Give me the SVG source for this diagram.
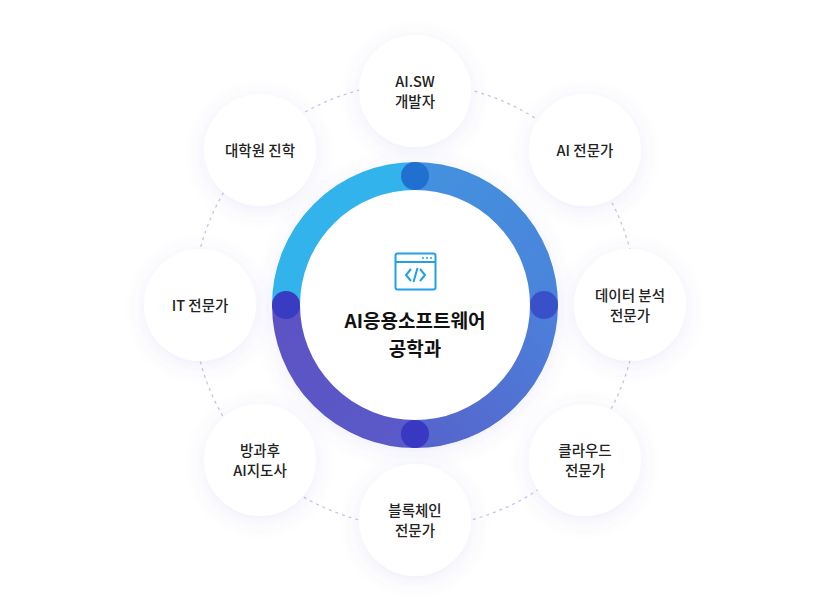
<svg xmlns="http://www.w3.org/2000/svg" width="830" height="611" viewBox="0 0 830 611">
<defs>
<filter id="sh" x="-50%" y="-50%" width="200%" height="200%"><feDropShadow dx="0" dy="4" stdDeviation="10" flood-color="#6a6ad0" flood-opacity="0.12"/></filter>
<linearGradient id="g1" gradientUnits="userSpaceOnUse" x1="415" y1="176" x2="544" y2="305"><stop offset="0" stop-color="#4391de"/><stop offset="1" stop-color="#4a84db"/></linearGradient>
<linearGradient id="g2" gradientUnits="userSpaceOnUse" x1="544" y1="305" x2="415" y2="434"><stop offset="0" stop-color="#4c80da"/><stop offset="1" stop-color="#5664cc"/></linearGradient>
<linearGradient id="g3" gradientUnits="userSpaceOnUse" x1="415" y1="434" x2="286" y2="305"><stop offset="0" stop-color="#5a5ac8"/><stop offset="1" stop-color="#5d52c4"/></linearGradient>
</defs>
<style>
.n{fill:#fff;filter:url(#sh)}
.t{font-family:"Noto Sans CJK KR","Noto Sans",sans-serif;font-size:14.5px;font-weight:500;fill:#222;text-anchor:middle}
.ring{fill:none;stroke-width:28}
</style>
<rect width="830" height="611" fill="#fff"/>
<g id="connectors"><circle cx="415" cy="305" r="222" fill="none" stroke="#c4c4f0" stroke-width="1.3" stroke-dasharray="3 4"/></g>
<g id="core">
<circle cx="415" cy="305" r="143" fill="#fff" filter="url(#sh)"/>
<path class="ring" stroke="#33b3ec" d="M286 305 A129 129 0 0 1 415 176"/>
<path class="ring" stroke="url(#g1)" d="M415 176 A129 129 0 0 1 544 305"/>
<path class="ring" stroke="url(#g2)" d="M544 305 A129 129 0 0 1 415 434"/>
<path class="ring" stroke="url(#g3)" d="M415 434 A129 129 0 0 1 286 305"/>
<circle cx="415" cy="176" r="14" fill="#1f70cf"/>
<circle cx="286" cy="305" r="14" fill="#383cc2"/>
<circle cx="544" cy="305" r="14" fill="#3a50c8"/>
<circle cx="415" cy="434" r="14" fill="#3838c2"/>
<g fill="none" stroke="#22a0e6" stroke-width="2">
<rect x="395.5" y="253.5" width="40" height="36" rx="2"/>
<line x1="395.5" y1="262" x2="435.5" y2="262"/>
<polyline points="411,269 406,275 411,281"/><polyline points="420,269 425,275 420,281"/><line x1="417.5" y1="268" x2="413.5" y2="282"/>
</g>
<g fill="#22a0e6"><circle cx="423" cy="258" r="1"/><circle cx="427" cy="258" r="1"/><circle cx="431" cy="258" r="1"/></g>
<text class="t" x="415" y="328" style="font-size:19px;font-weight:700;fill:#111">AI응용소프트웨어</text>
<text class="t" x="415" y="356" style="font-size:19px;font-weight:700;fill:#111">공학과</text>
</g>
<g id="n1"><circle class="n" cx="415" cy="91" r="56"/><text class="t" x="415" y="87">AI.SW</text><text class="t" x="415" y="107">개발자</text></g>
<g id="n2"><circle class="n" cx="585" cy="150" r="56"/><text class="t" x="585" y="156">AI 전문가</text></g>
<g id="n3"><circle class="n" cx="630" cy="305" r="56"/><text class="t" x="630" y="301">데이터 분석</text><text class="t" x="630" y="321">전문가</text></g>
<g id="n4"><circle class="n" cx="585" cy="460" r="56"/><text class="t" x="585" y="456">클라우드</text><text class="t" x="585" y="476">전문가</text></g>
<g id="n5"><circle class="n" cx="415" cy="520" r="56"/><text class="t" x="415" y="516">블록체인</text><text class="t" x="415" y="536">전문가</text></g>
<g id="n6"><circle class="n" cx="260" cy="460" r="56"/><text class="t" x="260" y="456">방과후</text><text class="t" x="260" y="476">AI지도사</text></g>
<g id="n7"><circle class="n" cx="200" cy="305" r="56"/><text class="t" x="200" y="311">IT 전문가</text></g>
<g id="n8"><circle class="n" cx="260" cy="150" r="56"/><text class="t" x="260" y="156">대학원 진학</text></g>
</svg>
